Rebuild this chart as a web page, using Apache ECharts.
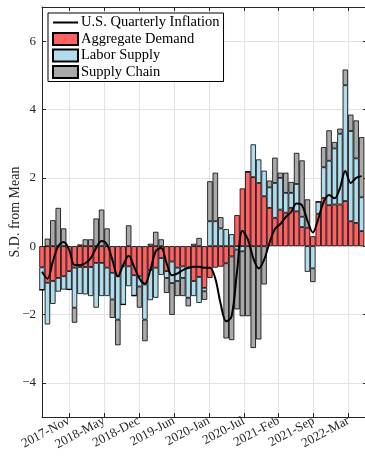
<!DOCTYPE html>
<html>
<head>
<meta charset="utf-8">
<script src="https://cdn.jsdelivr.net/npm/echarts@6/dist/echarts.min.js"></script>
<style>
  html, body { margin: 0; padding: 0; background: #fff; }
  #chart { width: 365px; height: 460px; }
</style>
</head>
<body>
<div id="chart"></div>
<script>
// Monthly decomposition of U.S. inflation, in standard deviations from the mean
const months = [
  '2017-Jun','2017-Jul','2017-Aug','2017-Sep','2017-Oct','2017-Nov','2017-Dec',
  '2018-Jan','2018-Feb','2018-Mar','2018-Apr','2018-May','2018-Jun','2018-Jul','2018-Aug','2018-Sep','2018-Oct','2018-Nov','2018-Dec',
  '2019-Jan','2019-Feb','2019-Mar','2019-Apr','2019-May','2019-Jun','2019-Jul','2019-Aug','2019-Sep','2019-Oct','2019-Nov','2019-Dec',
  '2020-Jan','2020-Feb','2020-Mar','2020-Apr','2020-May','2020-Jun','2020-Jul','2020-Aug','2020-Sep','2020-Oct','2020-Nov','2020-Dec',
  '2021-Jan','2021-Feb','2021-Mar','2021-Apr','2021-May','2021-Jun','2021-Jul','2021-Aug','2021-Sep','2021-Oct','2021-Nov','2021-Dec',
  '2022-Jan','2022-Feb','2022-Mar','2022-Apr','2022-May'
];

const tickLabels = ['2017-Nov','2018-May','2018-Dec','2019-Jun','2020-Jan','2020-Jul','2021-Feb','2021-Sep','2022-Mar'];
const yTicks = [-4, -2, 0, 2, 4, 6];

const inflation = [
  -0.75, -0.95, -0.45, 0.00, 0.12, -0.10, -0.55, -0.55, -0.50, -0.35,
  -0.05, 0.15, 0.05, -0.40, -0.88, -0.55, -0.28, -0.60, -0.95, -1.10,
  -0.70, -0.15, -0.05, -0.50, -0.85, -0.80, -0.70, -0.63, -0.60, -0.60,
  -0.63, -0.63, -0.95, -1.70, -2.20, -2.05, -0.75, 0.45, 0.20, -0.35,
  -0.65, -0.40, 0.10, 0.50, 0.65, 0.85, 1.00, 1.25, 1.20, 0.75,
  0.40, 0.80, 1.30, 1.50, 1.40, 1.70, 2.20, 1.85, 2.00, 2.05
];

const aggregateDemand = [
  -0.62, -1.07, -1.02, -0.93, -0.88, -0.73, -0.63, -0.61, -0.61, -0.61,
  -0.49, -0.49, -0.63, -0.78, -0.88, -0.59, -0.59, -0.85, -0.88, -1.12,
  -0.70, -0.63, -0.35, -0.73, -0.45, -0.63, -0.59, -0.63, -1.02, -0.90,
  -1.22, -0.93, -0.63, -0.60, -0.50, -0.30, 0.91, 1.69, 2.18, 2.02,
  1.85, 1.46, 1.12, 0.83, 1.07, 0.98, 1.12, 1.02, 0.56, 0.54,
  0.29, 0.95, 1.41, 1.20, 1.22, 1.22, 1.32, 0.73, 0.68, 0.44
];

const laborSupply = [
  -0.66, -1.22, -0.67, -0.40, -0.39, -0.54, -1.17, -0.79, -0.80, -0.85,
  -1.31, -0.97, -0.83, -0.78, -1.27, -1.12, -0.58, -0.60, -0.30, -1.03,
  -0.88, -0.88, -0.49, -0.20, -0.63, -0.39, -0.34, -0.88, -0.44, -0.76,
  -0.10, 0.73, 0.73, 0.52, 0.50, 0.35, -0.10, -0.15, 0.00, 0.96,
  0.69, 0.75, 0.60, 1.02, 0.93, 0.58, 0.44, 0.80, 0.30, -0.75,
  -0.65, 0.35, 0.90, 1.30, 1.64, 2.07, 3.39, 2.64, 1.89, 0.99
];

const supplyChain = [
  0.00, 0.22, 0.76, 1.12, 0.52, 0.00, -0.44, 0.05, 0.20, 0.20,
  0.81, 1.07, 0.52, -0.54, -0.75, 0.00, 0.61, 0.00, -0.62, -0.63,
  0.07, 0.42, 0.20, -0.44, -0.93, -0.44, -0.53, -0.25, 0.07, 0.24,
  -0.25, 1.17, 1.42, 0.33, -2.20, -2.45, -1.75, -1.90, -2.05, -2.98,
  -2.73, -1.12, 0.20, 0.74, 0.15, 0.59, 0.32, 0.91, 1.65, 0.83,
  -0.40, 0.00, 0.59, 0.89, 0.19, 0.15, 0.46, 0.48, 1.11, 1.76
];

const FONT = '"Liberation Serif", "DejaVu Serif", serif';
const AXIS_COLOR = '#262626';
const GRID_COLOR = '#e3e3e3';

// the time axis runs from the first month to one month past the last
const axisMonths = months.concat(['2022-Jun']);
const xMax = axisMonths.length - 1;

// date ticks fall every 6.45 months, starting at Nov 2017
const firstTick = months.indexOf('2017-Nov');
const tickPos = tickLabels.map((_, k) => firstTick + 6.45 * k);

const xLabel = (v) => {
  const k = tickPos.findIndex((p) => Math.abs(p - v) < 1e-6);
  return k >= 0 ? tickLabels[k] : '';
};
const yLabel = (v) => (v < 0 ? '\u2212' + Math.abs(v) : String(v));

// legend swatch for the line: a thin horizontal stroke inside a 25x12 box
const LINE_ICON = 'path://M0,0L0.05,0L0.05,0.05Z M0,5.1L25,5.1L25,6.9L0,6.9Z M24.95,12L25,12L25,11.95Z';

const barStyle = (color) => ({
  color: color,
  borderColor: '#000',
  borderWidth: 0.8
});

const chart = echarts.init(document.getElementById('chart'), null, { renderer: 'canvas' });

const dateAxis = (position, withLabels) => ({
  type: 'value',
  min: 0,
  max: xMax,
  position: position,
  axisLine: { show: true, onZero: false, lineStyle: { color: AXIS_COLOR, width: 1 } },
  axisTick: { show: true, inside: true, length: 4, customValues: tickPos, lineStyle: { color: AXIS_COLOR } },
  axisLabel: withLabels ? {
    customValues: tickPos,
    formatter: xLabel,
    rotate: 28,
    margin: 3,
    fontFamily: FONT,
    fontSize: 13,
    color: AXIS_COLOR
  } : { show: false },
  splitLine: { show: withLabels, lineStyle: { color: GRID_COLOR, width: 1 } }
});

const sdAxis = (position, withLabels) => ({
  type: 'value',
  min: -5,
  max: 7,
  position: position,
  axisLine: { show: true, onZero: false, lineStyle: { color: AXIS_COLOR, width: 1 } },
  axisTick: { show: true, inside: true, length: 4, customValues: yTicks, lineStyle: { color: AXIS_COLOR } },
  axisLabel: withLabels ? {
    customValues: yTicks,
    formatter: yLabel,
    margin: 6,
    fontFamily: FONT,
    fontSize: 13,
    color: AXIS_COLOR
  } : { show: false },
  splitLine: { show: withLabels, lineStyle: { color: GRID_COLOR, width: 1 } }
});

const yMain = sdAxis('left', true);
Object.assign(yMain, {
  name: 'S.D. from Mean',
  nameLocation: 'middle',
  nameRotate: 90,
  nameGap: 20,
  nameMoveOverlap: false,
  nameTextStyle: { fontFamily: FONT, fontSize: 14, color: AXIS_COLOR }
});

chart.setOption({
  animation: false,
  backgroundColor: '#fff',
  textStyle: { fontFamily: FONT },
  grid: {
    left: 42,
    top: 7,
    right: -2,
    bottom: 43,
    containLabel: false,
    outerBoundsMode: 'none'
  },
  legend: {
    orient: 'vertical',
    left: 48,
    top: 13,
    icon: 'rect',
    data: [
      { name: 'U.S. Quarterly Inflation', icon: LINE_ICON, itemStyle: { color: '#000', borderWidth: 0 } },
      'Aggregate Demand',
      'Labor Supply',
      'Supply Chain'
    ],
    backgroundColor: '#fff',
    borderColor: '#000',
    borderWidth: 1,
    borderRadius: 0,
    padding: [2, 4, 2, 4],
    itemGap: 1.5,
    itemWidth: 25,
    itemHeight: 12,
    textStyle: { fontFamily: FONT, fontSize: 14.5, color: '#000', padding: [0, 0, 0, -2] }
  },
  xAxis: [
    // monthly positions for the bars and the line
    { type: 'category', data: axisMonths, boundaryGap: false, show: false },
    dateAxis('bottom', true),
    dateAxis('top', false)
  ],
  yAxis: [yMain, sdAxis('right', false)],
  series: [
    {
      name: 'Aggregate Demand',
      type: 'bar',
      stack: 'total',
      stackStrategy: 'samesign',
      barWidth: '100%',
      data: aggregateDemand,
      itemStyle: barStyle('#ff6262'),
      z: 2
    },
    {
      name: 'Labor Supply',
      type: 'bar',
      stack: 'total',
      stackStrategy: 'samesign',
      barWidth: '100%',
      data: laborSupply,
      itemStyle: barStyle('#b0dcec'),
      z: 2
    },
    {
      name: 'Supply Chain',
      type: 'bar',
      stack: 'total',
      stackStrategy: 'samesign',
      barWidth: '100%',
      data: supplyChain,
      itemStyle: barStyle('#a9a9a9'),
      z: 2
    },
    {
      name: 'U.S. Quarterly Inflation',
      type: 'line',
      data: inflation,
      smooth: 0.35,
      symbol: 'none',
      lineStyle: { color: '#000', width: 2 },
      itemStyle: { color: '#000' },
      z: 5
    }
  ]
});
</script>
</body>
</html>
